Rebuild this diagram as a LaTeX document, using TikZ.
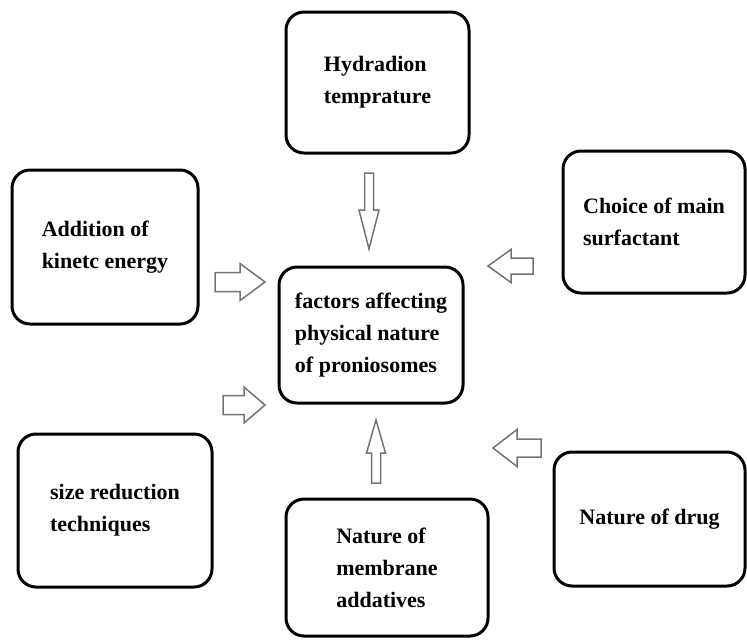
\documentclass[tikz,border=0pt]{standalone}
\usepackage{fontspec}
\setmainfont{Liberation Serif}
\usetikzlibrary{positioning}

\tikzset{
  factor/.style={draw,line width=1.5pt,rounded corners=9pt,align=left,
    font=\bfseries\fontsize{11}{16}\selectfont,inner sep=2pt},
  arrowline/.style={draw=black!55,line width=0.75pt,line join=miter},
  % length, head length, head width, shaft width
  pics/inarrow/.style n args={4}{code={
    \draw[arrowline] (0,{-#4/2}) -- ({#1-#2},{-#4/2}) -- ({#1-#2},{-#3/2})
      -- (#1,0) -- ({#1-#2},{#3/2}) -- ({#1-#2},{#4/2}) -- (0,{#4/2}) -- cycle;
  }}
}

\begin{document}
\begin{tikzpicture}[x=0.5pt,y=-0.5pt]
  \useasboundingbox (0,0) rectangle (747,639);

  % factor boxes
  \node[factor,minimum width=91.5pt,minimum height=70.5pt] (hyd) at (377.5,82.5) {Hydradion\\temprature};
  \node[factor,minimum width=93pt,minimum height=77pt] (kin) at (105,247) {Addition of\\kinetc energy};
  \node[factor,minimum width=91pt,minimum height=71pt] (surf) at (654,222) {Choice of main\\surfactant};
  \node[factor,minimum width=92pt,minimum height=68pt] (core) at (371,335) {factors affecting\\physical nature\\of proniosomes};
  \node[factor,minimum width=97pt,minimum height=76.5pt] (size) at (115,510.5) {size reduction\\techniques};
  \node[factor,minimum width=101pt,minimum height=68.5pt] (memb) at (387,567.5) {Nature of\\membrane\\addatives};
  \node[factor,minimum width=95.5pt,minimum height=67pt] (drug) at (649.5,519) {Nature of drug};

  % hollow arrows towards the centre
  \pic[rotate=-90] (hydarr) at (369,173) {inarrow={76}{39}{20}{9}};
  \pic[rotate=90] (membarr) at (376,483) {inarrow={63}{33}{19}{9}};
  \pic (kinarr) at (215,282) {inarrow={50}{25}{37}{19}};
  \pic (sizearr) at (223,405) {inarrow={42}{21}{36}{19}};
  \pic[rotate=180] (surfarr) at (533,266) {inarrow={45}{23}{33}{16}};
  \pic[rotate=180] (drugarr) at (541,448) {inarrow={48}{24}{37}{18}};
\end{tikzpicture}
\end{document}
